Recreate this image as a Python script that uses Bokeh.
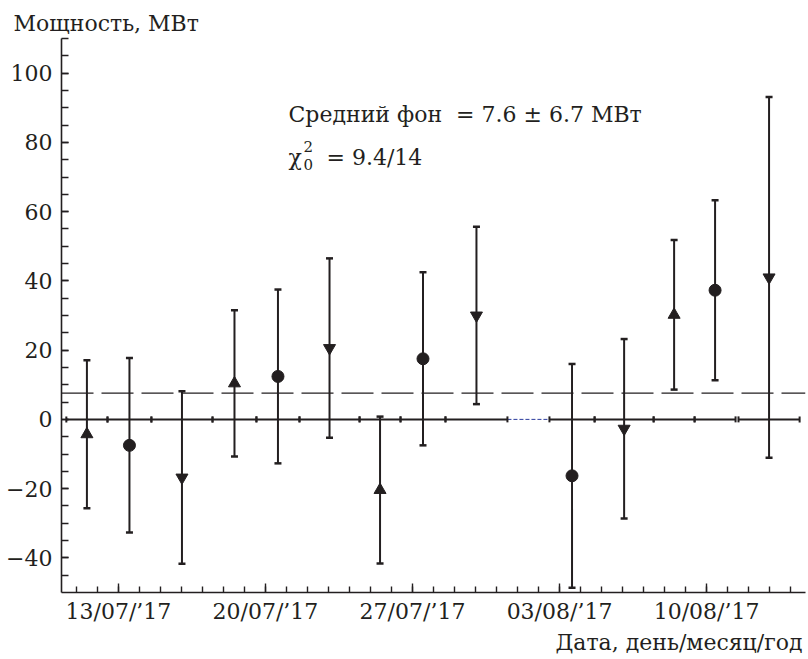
import numpy as np
from bokeh.plotting import figure
from bokeh.models import Range1d, FixedTicker, Span, Label, ColumnDataSource, Title
from bokeh.core.properties import field
from bokeh.embed import file_html
from bokeh.resources import INLINE

# ---- data (x in days counted from 1 July 2017 = day 1; 1 Aug = day 32) ----
period_start = [10.52, 12.48, 14.57, 17.48, 19.57, 21.62, 24.48, 26.43, 28.57,
                33.52, 35.67, 38.48, 40.43, 42.52]
period_end = [12.48, 14.57, 17.48, 19.57, 21.62, 24.48, 26.43, 28.57, 31.52,
              35.67, 38.48, 40.43, 42.38, 45.43]
power_mw = [-4.3, -7.5, -16.8, 10.4, 12.4, 20.6, -20.4, 17.5, 30.0,
            -16.3, -2.7, 30.2, 37.3, 41.0]
power_err = [21.4, 25.2, 24.9, 21.1, 25.1, 25.9, 21.2, 25.0, 25.6,
             32.3, 25.9, 21.6, 26.0, 52.1]
marker_kind = ["triangle", "circle", "inverted_triangle", "triangle", "circle",
               "inverted_triangle", "triangle", "circle", "inverted_triangle",
               "circle", "inverted_triangle", "triangle", "circle", "inverted_triangle"]
background_mean = 7.6
background_err = 6.7
chi2_value = "9.4/14"

x_major = [13, 20, 27, 34, 41]
x_major_labels = ["13/07/\u201917", "20/07/\u201917", "27/07/\u201917",
                  "03/08/\u201917", "10/08/\u201917"]
x_minor = list(range(11, 46))
y_major = [-40, -20, 0, 20, 40, 60, 80, 100]
y_major_labels = ["\u221240", "\u221220", "0", "20", "40", "60", "80", "100"]
y_minor = list(range(-45, 111, 5))

# ---- layout ----
W, H = 808, 659
L, R, T, B = 61, 3, 38, 67
X0, X1 = 10.29, 45.71
Y0, Y1 = -50, 110
INK = "#231f20"
FONT = "DejaVu Serif"
FS = "22px"


def dx(px):
    return X0 + (px - L) * (X1 - X0) / (W - L - R)


def dy(py):
    return Y1 - (py - T) * (Y1 - Y0) / (H - T - B)


p = figure(width=W, height=H, x_range=Range1d(X0, X1), y_range=Range1d(Y0, Y1),
           output_backend="svg", toolbar_location=None,
           min_border_left=L, min_border_right=R, min_border_top=T, min_border_bottom=B)
p.title = Title(text="Мощность, МВт", align="left", offset=-48, standoff=6,
                text_font=FONT, text_font_size=FS, text_font_style="normal",
                text_color=INK)
p.add_layout(Title(text="Дата, день/месяц/год", align="right", offset=3, standoff=2,
                   text_font=FONT, text_font_size=FS, text_font_style="normal",
                   text_color=INK), "below")
p.xgrid.visible = False
p.ygrid.visible = False
p.outline_line_color = None
p.background_fill_color = "white"
p.border_fill_color = "white"

xa = p.xaxis[0]
ya = p.yaxis[0]
xa.ticker = FixedTicker(ticks=x_major, minor_ticks=x_minor)
ya.ticker = FixedTicker(ticks=y_major, minor_ticks=y_minor)
xa.major_label_overrides = {t: s for t, s in zip(x_major, x_major_labels)}
ya.major_label_overrides = {t: s for t, s in zip(y_major, y_major_labels)}
for ax in (xa, ya):
    ax.axis_line_color = INK
    ax.axis_line_width = 1.6
    ax.major_tick_line_color = INK
    ax.minor_tick_line_color = INK
    ax.major_tick_line_width = 1.4
    ax.minor_tick_line_width = 1.4
    ax.major_tick_out = 0
    ax.minor_tick_out = 0
    ax.major_label_text_font = FONT
    ax.major_label_text_font_size = FS
    ax.major_label_text_color = INK
xa.major_tick_in = 9
xa.minor_tick_in = 6
ya.major_tick_in = 7
ya.minor_tick_in = 7
xa.major_label_standoff = 6
ya.major_label_standoff = 9

# ---- derived columns ----
ps = np.array(period_start)
pe = np.array(period_end)
val = np.array(power_mw)
err = np.array(power_err)
centers = (ps + pe) / 2
src = ColumnDataSource(dict(x=centers, y=val, lo=val - err, hi=val + err,
                            x0=ps, x1=pe, zero=np.zeros(len(ps)), marker=marker_kind))

# background mean (dashed)
p.add_layout(Span(location=background_mean, dimension="width", line_color=INK,
                  line_width=1.2, line_dash="32 8"))

# gaps between measurement periods (thin blue)
gap_x0 = [e for e, s in zip(period_end[:-1], period_start[1:]) if s - e > 0.5]
gap_x1 = [s for e, s in zip(period_end[:-1], period_start[1:]) if s - e > 0.5]
p.segment(x0=gap_x0, y0=[0] * len(gap_x0), x1=gap_x1, y1=[0] * len(gap_x0),
          line_color="#2a3b9c", line_width=1, line_dash="4 2")

# horizontal period bars on the zero line
p.segment(x0="x0", y0="zero", x1="x1", y1="zero", source=src, line_color=INK, line_width=2)
bounds = np.array(period_start + period_end)
p.scatter(x=bounds, y=np.zeros(len(bounds)), marker="dash", angle=np.pi / 2,
          size=6, line_color=INK, line_width=2)

# vertical error bars
p.segment(x0="x", y0="lo", x1="x", y1="hi", source=src, line_color=INK, line_width=2)
p.scatter(x="x", y="lo", source=src, marker="dash", size=7, line_color=INK, line_width=2.5)
p.scatter(x="x", y="hi", source=src, marker="dash", size=7, line_color=INK, line_width=2.5)

# markers
p.scatter(x="x", y="y", source=src, marker=field("marker"), size=12,
          fill_color=INK, line_color=INK)

# ---- texts inside the frame ----
def lab(px, py, text, size=FS, align="left"):
    p.add_layout(Label(x=dx(px), y=dy(py), text=text, text_font=FONT,
                       text_font_size=size, text_color=INK, text_align=align,
                       text_baseline="alphabetic"))


lab(288, 114, f"Средний фон\u00a0 = {background_mean} \u00b1 {background_err} МВт")
lab(288, 157, "\u03c7")
lab(303, 164, "0", size="15px")
lab(303, 146, "2", size="15px")
lab(326, 157, f"= {chi2_value}")

open("out.html", "w").write(file_html(p, INLINE))
